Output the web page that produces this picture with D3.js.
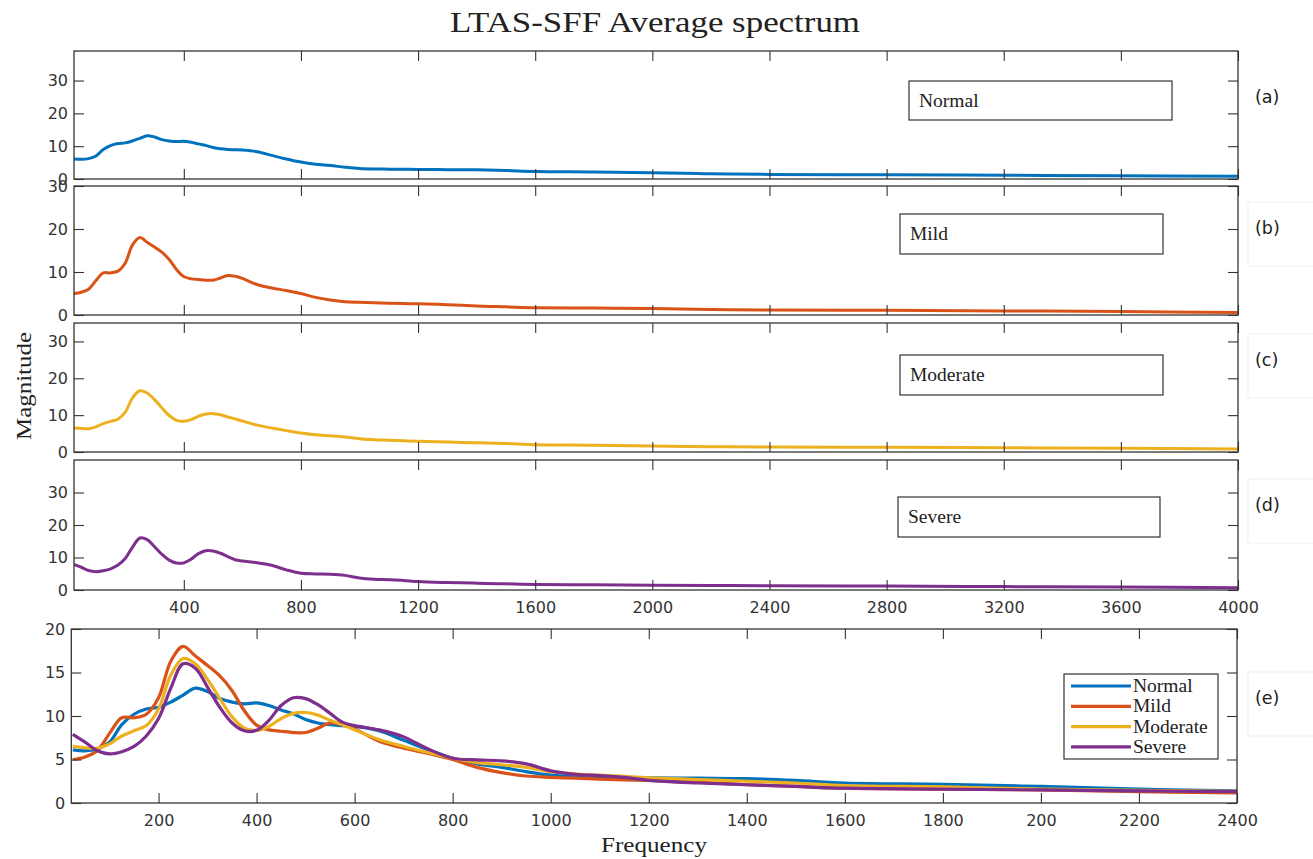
<!DOCTYPE html>
<html>
<head>
<meta charset="utf-8">
<script src="https://cdn.jsdelivr.net/npm/d3@7"></script>
<style>
  html, body { margin: 0; padding: 0; background: #fff; }
  svg { display: block; }
  .tick text { font-family: "DejaVu Sans", sans-serif; font-size: 16px; fill: #333; }
  .domain { display: none; }
  .tick line { stroke: #333; stroke-width: 1.1; }
</style>
</head>
<body>
<svg id="chart" width="1313" height="859"></svg>
<script>
// ---------------- DATA ----------------
const freqs = [25, 50, 75, 100, 125, 150, 175, 200, 225, 250, 275, 300, 325, 350, 375, 400,
  425, 450, 475, 500, 525, 550, 575, 600, 650, 700, 750, 800, 850, 900, 950, 1000,
  1050, 1100, 1150, 1200, 1300, 1400, 1500, 1600, 1800, 2000, 2200, 2400, 2800, 3200, 3600, 4000];

const normal = [6.1, 6.0, 6.2, 7.0, 9.0, 10.2, 10.8, 11.0, 11.6, 12.4, 13.2, 12.8, 12.0, 11.6, 11.4, 11.5,
  11.2, 10.7, 10.25, 9.6, 9.2, 9.0, 8.9, 8.8, 8.3, 7.2, 6.1, 5.15, 4.5, 4.1, 3.6, 3.2,
  3.05, 3.0, 2.95, 2.9, 2.85, 2.8, 2.6, 2.3, 2.15, 1.9, 1.6, 1.4, 1.3, 1.15, 1.0, 0.8];

const mild = [5.0, 5.3, 6.0, 8.0, 9.8, 9.8, 10.2, 12.1, 16.3, 18.0, 16.9, 15.8, 14.6, 12.9, 10.6, 8.95,
  8.4, 8.25, 8.1, 8.1, 8.6, 9.2, 9.0, 8.5, 7.1, 6.3, 5.7, 5.0, 4.1, 3.5, 3.1, 2.95,
  2.85, 2.75, 2.65, 2.6, 2.4, 2.1, 1.9, 1.7, 1.6, 1.5, 1.3, 1.15, 1.1, 0.95, 0.8, 0.6];

const moderate = [6.5, 6.35, 6.3, 6.8, 7.7, 8.3, 8.9, 10.8, 14.7, 16.6, 16.0, 14.2, 12.0, 9.9, 8.6, 8.35,
  8.8, 9.7, 10.3, 10.4, 10.1, 9.5, 9.0, 8.4, 7.3, 6.5, 5.8, 5.15, 4.65, 4.4, 4.1, 3.6,
  3.35, 3.2, 3.05, 2.9, 2.7, 2.5, 2.3, 2.0, 1.85, 1.6, 1.45, 1.35, 1.3, 1.15, 1.0, 0.8];

const severe = [7.9, 7.0, 6.0, 5.65, 5.9, 6.5, 7.7, 9.7, 13.2, 16.0, 15.5, 13.3, 11.0, 9.2, 8.3, 8.35,
  9.5, 11.2, 12.1, 12.0, 11.3, 10.3, 9.3, 8.9, 8.4, 7.6, 6.2, 5.15, 4.95, 4.85, 4.5, 3.7,
  3.3, 3.15, 2.95, 2.6, 2.3, 2.1, 1.9, 1.7, 1.6, 1.5, 1.4, 1.3, 1.2, 1.05, 0.9, 0.7];

const seriesNames = ["Normal", "Mild", "Moderate", "Severe"];
const seriesColors = ["#0072BD", "#D95319", "#EDB120", "#7E2F8E"];
const panelLabels = ["(a)", "(b)", "(c)", "(d)", "(e)"];

const topXTicks = [400, 800, 1200, 1600, 2000, 2400, 2800, 3200, 3600, 4000];
const topXTickLabels = ["400", "800", "1200", "1600", "2000", "2400", "2800", "3200", "3600", "4000"];
const bottomXTicks = [200, 400, 600, 800, 1000, 1200, 1400, 1600, 1800, 2000, 2200, 2400];
const bottomXTickLabels = ["200", "400", "600", "800", "1000", "1200", "1400", "1600", "1800", "200", "2200", "2400"];
const topYTicks = [0, 10, 20, 30];
const bottomYTicks = [0, 5, 10, 15, 20];
const topYMax = [39, 30, 35, 40];
const bottomYMax = 20;

const titleText = "LTAS-SFF Average spectrum";
const xLabelText = "Frequency";
const yLabelText = "Magnitude";

// ---------------- DRAW ----------------
const allSeries = [normal, mild, moderate, severe];
const svg = d3.select("#chart");
const serif = "'Liberation Serif', 'DejaVu Serif', serif";
const sans = "'DejaVu Sans', sans-serif";

// panel geometry
const topPanels = [
  {top: 51, bottom: 179, box: {x: 909, y: 81, w: 263, h: 39}},
  {top: 186, bottom: 315, box: {x: 900, y: 214, w: 263, h: 40}},
  {top: 323, bottom: 452, box: {x: 900, y: 355, w: 263, h: 40}},
  {top: 460, bottom: 590, box: {x: 898, y: 497, w: 262, h: 40}}
];
const topLeft = 74, topRight = 1238;
const xTop = d3.scaleLinear().domain([25, 4000]).range([topLeft, topRight]);

const defs = svg.append("defs");

function drawFrame(g, x, y, left, right, top, bottom, xTicks, xLabels, yTicks, showXLabels, yTickFmt) {
  g.append("g").attr("transform", `translate(${left},0)`)
    .call(d3.axisLeft(y).tickValues(yTicks).tickSize(-10).tickPadding(6).tickFormat(yTickFmt));
  g.append("g").attr("transform", `translate(${right},0)`)
    .call(d3.axisRight(y).tickValues(yTicks).tickSize(-10).tickFormat(""));
  g.append("g").attr("transform", `translate(0,${top})`)
    .call(d3.axisTop(x).tickValues(xTicks).tickSize(-10).tickFormat(""));
  const bx = g.append("g").attr("transform", `translate(0,${bottom})`)
    .call(d3.axisBottom(x).tickValues(xTicks).tickSize(-10).tickPadding(8)
      .tickFormat((d, i) => showXLabels ? xLabels[i] : ""));
  bx.selectAll(".tick text").attr("dy", "0.95em");
  g.append("rect").attr("x", left).attr("y", top).attr("width", right - left).attr("height", bottom - top)
    .attr("fill", "none").attr("stroke", "#333").attr("stroke-width", 1.3);
}

topPanels.forEach((p, i) => {
  const g = svg.append("g");
  const y = d3.scaleLinear().domain([0, topYMax[i]]).range([p.bottom, p.top]);
  const clipId = "clip" + i;
  defs.append("clipPath").attr("id", clipId).append("rect")
    .attr("x", topLeft).attr("y", p.top).attr("width", topRight - topLeft).attr("height", p.bottom - p.top + 2);
  const line = d3.line().x((d, j) => xTop(freqs[j])).y(d => y(d)).curve(d3.curveCatmullRom.alpha(0.5));
  g.append("path").datum(allSeries[i]).attr("d", line)
    .attr("fill", "none").attr("stroke", seriesColors[i]).attr("stroke-width", 3)
    .attr("stroke-linejoin", "round").attr("clip-path", `url(#${clipId})`);
  drawFrame(g, xTop, y, topLeft, topRight, p.top, p.bottom, topXTicks, topXTickLabels, topYTicks, i === 3, d3.format("d"));
  g.append("rect").attr("x", p.box.x).attr("y", p.box.y).attr("width", p.box.w).attr("height", p.box.h)
    .attr("fill", "#fff").attr("stroke", "#333").attr("stroke-width", 1.2);
  g.append("text").attr("x", p.box.x + 10).attr("y", p.box.y + p.box.h / 2 + 6)
    .attr("font-family", serif).attr("font-size", 19.5).attr("fill", "#222").text(seriesNames[i]);
});

// bottom panel (e)
const eLeft = 71.3, eRight = 1237, eTop = 629, eBottom = 803;
const xBot = d3.scaleLinear().domain([22, 2400]).range([eLeft, eRight]);
const yBot = d3.scaleLinear().domain([0, bottomYMax]).range([eBottom, eTop]);
const ge = svg.append("g");
defs.append("clipPath").attr("id", "clipE").append("rect")
  .attr("x", eLeft).attr("y", eTop).attr("width", eRight - eLeft).attr("height", eBottom - eTop);
const lineE = d3.line().defined((d, j) => freqs[j] <= 2800)
  .x((d, j) => xBot(freqs[j])).y(d => yBot(d)).curve(d3.curveCatmullRom.alpha(0.5));
allSeries.forEach((s, i) => {
  ge.append("path").datum(s).attr("d", lineE)
    .attr("fill", "none").attr("stroke", seriesColors[i]).attr("stroke-width", 3.2)
    .attr("stroke-linejoin", "round").attr("clip-path", "url(#clipE)");
});
drawFrame(ge, xBot, yBot, eLeft, eRight, eTop, eBottom, bottomXTicks, bottomXTickLabels, bottomYTicks, true, d3.format("d"));

// legend (e)
const lg = ge.append("g");
lg.append("rect").attr("x", 1064).attr("y", 674).attr("width", 154).attr("height", 85)
  .attr("fill", "#fff").attr("stroke", "#333").attr("stroke-width", 1.2);
seriesNames.forEach((n, i) => {
  const cy = 686 + i * 20.3;
  lg.append("line").attr("x1", 1071).attr("x2", 1131).attr("y1", cy).attr("y2", cy)
    .attr("stroke", seriesColors[i]).attr("stroke-width", 3.2);
  lg.append("text").attr("x", 1133).attr("y", cy + 6).attr("font-family", serif)
    .attr("font-size", 19.5).attr("fill", "#222").text(n);
});

// panel labels with faint boxes
const labelYs = [97, 228, 360, 505, 698];
labelYs.forEach((ly, i) => {
  if (i > 0) {
    svg.append("rect").attr("x", 1248).attr("y", ly - 26).attr("width", 70).attr("height", 64)
      .attr("fill", "none").attr("stroke", "#f0f0f0").attr("stroke-width", 1);
  }
  svg.append("text").attr("x", 1255).attr("y", ly + 6).attr("font-family", sans)
    .attr("font-size", 17.5).attr("fill", "#222").text(panelLabels[i]);
});

// title and axis labels
svg.append("text").attr("x", 655).attr("y", 32).attr("text-anchor", "middle")
  .attr("font-family", serif).attr("font-size", 29).attr("fill", "#222")
  .attr("textLength", 410).attr("lengthAdjust", "spacingAndGlyphs").text(titleText);
svg.append("text").attr("x", 654).attr("y", 852).attr("text-anchor", "middle")
  .attr("font-family", serif).attr("font-size", 22).attr("fill", "#222")
  .attr("textLength", 106).attr("lengthAdjust", "spacingAndGlyphs").text(xLabelText);
svg.append("text").attr("transform", "translate(31,386) rotate(-90)").attr("text-anchor", "middle")
  .attr("font-family", serif).attr("font-size", 22).attr("fill", "#222")
  .attr("textLength", 108).attr("lengthAdjust", "spacingAndGlyphs").text(yLabelText);
</script>
</body>
</html>
